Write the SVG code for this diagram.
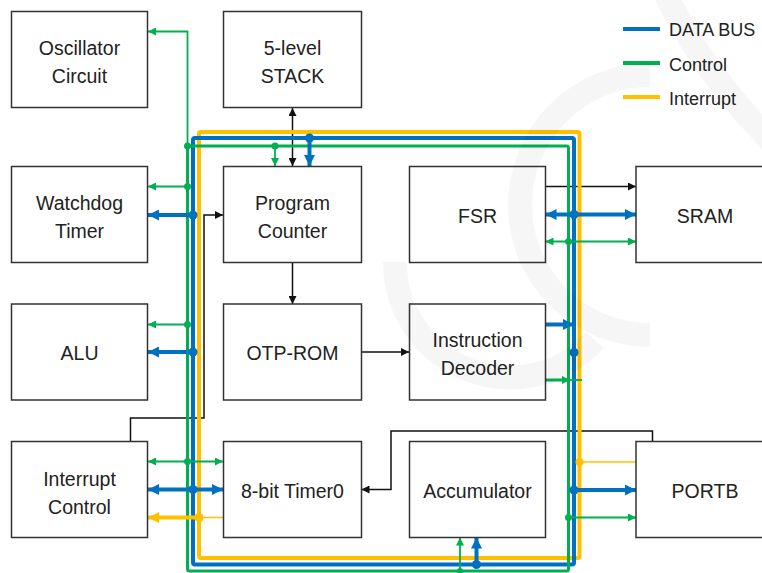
<svg xmlns="http://www.w3.org/2000/svg" width="762" height="573" viewBox="0 0 762 573">
<style>
.box{fill:none;stroke:#333;stroke-width:1.5}
.lbl{font-family:"Liberation Sans",Arial,sans-serif;font-size:19.5px;fill:#222;text-anchor:middle}
.leg{font-family:"Liberation Sans",Arial,sans-serif;font-size:18px;fill:#222}
.k{fill:none;stroke:#111;stroke-width:1.5}
.g{fill:none;stroke:#00b050;stroke-width:1.8}
.gt{fill:none;stroke:#00b050;stroke-width:3}
.b{fill:none;stroke:#0070c0;stroke-width:4}
.y{fill:none;stroke:#ffc000;stroke-width:4}
.yt{fill:none;stroke:#ffc000;stroke-width:1.5}
.gd{fill:#00b050}
.bd{fill:#0070c0}
.yd{fill:#ffc000}
.wm{fill:none;stroke:#000;stroke-opacity:0.035;stroke-width:24}
</style>
<defs>
<marker id="ak" viewBox="0 0 10 10" refX="10" refY="5" markerWidth="9" markerHeight="8" markerUnits="userSpaceOnUse" orient="auto-start-reverse"><path d="M0,0 L10,5 L0,10 z" fill="#111"/></marker>
<marker id="ag" viewBox="0 0 10 10" refX="10" refY="5" markerWidth="9" markerHeight="8" markerUnits="userSpaceOnUse" orient="auto-start-reverse"><path d="M0,0 L10,5 L0,10 z" fill="#00b050"/></marker>
<marker id="ab" viewBox="0 0 10 10" refX="10" refY="5" markerWidth="11" markerHeight="11" markerUnits="userSpaceOnUse" orient="auto-start-reverse"><path d="M0,0 L10,5 L0,10 z" fill="#0070c0"/></marker>
<marker id="ay" viewBox="0 0 10 10" refX="10" refY="5" markerWidth="11" markerHeight="11" markerUnits="userSpaceOnUse" orient="auto-start-reverse"><path d="M0,0 L10,5 L0,10 z" fill="#ffc000"/></marker>
</defs>
<rect x="0" y="0" width="762" height="573" fill="#fff"/>

<g id="legend">
<line x1="623" y1="29" x2="660" y2="29" stroke="#0070c0" stroke-width="4"/>
<line x1="623" y1="63" x2="660" y2="63" stroke="#00b050" stroke-width="4"/>
<line x1="623" y1="97" x2="660" y2="97" stroke="#ffc000" stroke-width="4"/>
<text class="leg" x="669" y="36">DATA BUS</text>
<text class="leg" x="669" y="71">Control</text>
<text class="leg" x="669" y="105">Interrupt</text>
</g>

<g id="connectors">
<!-- black -->
<path class="k" d="M292.5,108 V166" marker-start="url(#ak)" marker-end="url(#ak)"/>
<path class="k" d="M292.5,263 V304" marker-end="url(#ak)"/>
<path class="k" d="M361.5,352 H409" marker-end="url(#ak)"/>
<path class="k" d="M545.5,186.5 H636" marker-end="url(#ak)"/>
<path class="k" d="M130.5,441.5 V418 H204 V215 H223" marker-end="url(#ak)"/>
<path class="k" d="M652.5,441.5 V431 H391 V489.5 H361.5" marker-end="url(#ak)"/>

<!-- bus -->
<rect x="199" y="132" width="380.5" height="426" rx="2" class="y"/>
<rect x="193" y="138" width="381" height="426.5" rx="2" class="b" stroke-width="3.5"/>
<rect x="187.5" y="146" width="381" height="425" rx="2" class="gt" stroke-width="3.5"/>

<!-- green thin -->
<path class="g" d="M187.5,146 V31.5 H148" marker-end="url(#ag)"/>
<path class="g" d="M187.5,186.5 H148" marker-end="url(#ag)"/>
<path class="g" d="M187.5,324.5 H148" marker-end="url(#ag)"/>
<path class="g" d="M148,461.5 H223" marker-start="url(#ag)" marker-end="url(#ag)"/>
<path class="g" d="M275,146 V166" marker-end="url(#ag)"/>
<path class="g" d="M545.5,241.5 H636" marker-start="url(#ag)" marker-end="url(#ag)"/>
<path class="gt" d="M545.5,380 H570" marker-end="url(#ag)"/>
<path class="g" d="M566,380 H582"/>
<path class="g" d="M460,571 V537.5" marker-end="url(#ag)"/>
<path class="g" d="M568.5,517.5 H636" marker-end="url(#ag)"/>

<!-- blue thick -->
<path class="b" d="M193,215 H148" marker-end="url(#ab)"/>
<path class="b" d="M193,352 H148" marker-end="url(#ab)"/>
<path class="b" d="M148,489.5 H223" marker-start="url(#ab)" marker-end="url(#ab)"/>
<path class="b" d="M309.5,138 V166" marker-end="url(#ab)"/>
<path class="b" d="M545.5,214.5 H636" marker-start="url(#ab)" marker-end="url(#ab)"/>
<path class="b" d="M545.5,324.5 H574" marker-end="url(#ab)"/>
<path class="b" d="M476.5,564.5 V537.5" marker-end="url(#ab)"/>
<path class="b" d="M574,490 H636" marker-end="url(#ab)"/>

<!-- yellow -->
<path class="y" d="M199,517.5 H148" marker-end="url(#ay)"/>
<path class="yt" d="M199,517.5 H223"/>
<path class="yt" d="M579.5,462 H636"/>

<!-- junction dots -->
<circle class="gd" cx="187.5" cy="146" r="3.5"/>
<circle class="gd" cx="187.5" cy="186.5" r="3.5"/>
<circle class="gd" cx="187.5" cy="324.5" r="3.5"/>
<circle class="gd" cx="187.5" cy="461.5" r="3.5"/>
<circle class="gd" cx="275" cy="146" r="3.5"/>
<circle class="gd" cx="568.5" cy="241.5" r="3.5"/>
<circle class="gd" cx="568.5" cy="517.5" r="3.5"/>
<circle class="gd" cx="460" cy="571" r="3"/>
<circle class="bd" cx="193" cy="215" r="4.5"/>
<circle class="bd" cx="193" cy="352" r="4.5"/>
<circle class="bd" cx="193" cy="489.5" r="4.5"/>
<circle class="bd" cx="309.5" cy="138" r="4.5"/>
<circle class="bd" cx="574" cy="214.5" r="4.5"/>
<circle class="bd" cx="574" cy="352.5" r="4.5"/>
<circle class="bd" cx="476.5" cy="564.5" r="4.5"/>
<circle class="bd" cx="574" cy="490" r="4.5"/>
<circle class="yd" cx="199" cy="517.5" r="4.5"/>
<circle class="yd" cx="579.5" cy="462" r="4"/>
</g>

<g id="oscillator"><rect class="box" x="11.5" y="11.5" width="136" height="96"/><text class="lbl" x="79.5" y="54.5">Oscillator</text><text class="lbl" x="79.5" y="82.5">Circuit</text></g>
<g id="stack"><rect class="box" x="223.5" y="11.5" width="138" height="96"/><text class="lbl" x="292.5" y="54.5">5-level</text><text class="lbl" x="292.5" y="82.5">STACK</text></g>
<g id="watchdog"><rect class="box" x="11.5" y="166.5" width="136" height="96"/><text class="lbl" x="79.5" y="209.5">Watchdog</text><text class="lbl" x="79.5" y="237.5">Timer</text></g>
<g id="pc"><rect class="box" x="223.5" y="166.5" width="138" height="96"/><text class="lbl" x="292.5" y="209.5">Program</text><text class="lbl" x="292.5" y="237.5">Counter</text></g>
<g id="fsr"><rect class="box" x="409.5" y="166.5" width="136" height="96"/><text class="lbl" x="477.5" y="222.5">FSR</text></g>
<g id="sram"><rect class="box" x="636" y="166.5" width="136" height="96"/><text class="lbl" x="705" y="222.5">SRAM</text></g>
<g id="alu"><rect class="box" x="11.5" y="304" width="136" height="96"/><text class="lbl" x="79.5" y="360">ALU</text></g>
<g id="otprom"><rect class="box" x="223.5" y="304" width="138" height="96"/><text class="lbl" x="292.5" y="360">OTP-ROM</text></g>
<g id="decoder"><rect class="box" x="409.5" y="304" width="136" height="96"/><text class="lbl" x="477.5" y="347">Instruction</text><text class="lbl" x="477.5" y="375">Decoder</text></g>
<g id="intctrl"><rect class="box" x="11.5" y="441.5" width="136" height="96"/><text class="lbl" x="79.5" y="485.5">Interrupt</text><text class="lbl" x="79.5" y="513.5">Control</text></g>
<g id="timer0"><rect class="box" x="223.5" y="441.5" width="138" height="96"/><text class="lbl" x="292.5" y="498">8-bit Timer0</text></g>
<g id="accumulator"><rect class="box" x="409.5" y="441.5" width="136" height="96"/><text class="lbl" x="477.5" y="498">Accumulator</text></g>
<g id="portb"><rect class="box" x="636" y="441.5" width="136" height="96"/><text class="lbl" x="705" y="498">PORTB</text></g>

<g id="watermark">
<path class="wm" d="M650,75 A130,130 0 0 0 650,335"/>
<path class="wm" d="M395,262 A115,115 0 0 0 595,340"/>
<path class="wm" d="M664,-10 Q700,70 775,145"/>
</g>
</svg>
